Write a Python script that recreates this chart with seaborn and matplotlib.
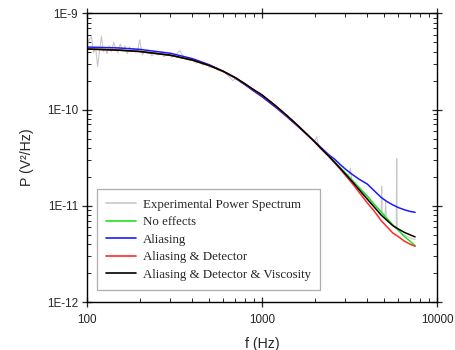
import numpy as np
import pandas as pd
import matplotlib
matplotlib.use("Agg")
import matplotlib.pyplot as plt
import seaborn as sns

# ---- data (P in units of 1e-10 V^2/Hz) ----
f_exp = [100, 103, 106, 109, 112, 115, 118, 121, 124, 127, 130, 134, 138, 142, 146,
         150, 155, 160, 165, 170, 175, 180, 185, 190, 195, 200, 207, 214, 221, 228,
         235, 245, 255, 265, 275, 290, 305, 320, 340, 360, 380, 400, 420, 440, 460,
         480, 500, 530, 560, 600, 640, 680, 720, 760, 800, 850, 900, 950, 1000, 1060,
         1120, 1180, 1250, 1330, 1410, 1500, 1600, 1700, 1800, 1900, 2000, 2050, 2100,
         2200, 2350, 2500, 2650, 2800, 3000, 3150, 3200, 3250, 3400, 3600, 3800, 4000,
         4200, 4400, 4600, 4800, 4830, 4860, 4950, 5050, 5090, 5130, 5250, 5400, 5550,
         5700, 5850, 5888, 5920, 6000, 6150, 6300, 6500, 6700, 6900, 7100, 7300, 7500]
p_exp = [4.6, 5.3, 5.7, 3.9, 4.4, 2.8, 4.1, 5.8, 4.0, 4.4, 3.8, 4.6, 4.0, 5.0, 4.3,
         3.9, 4.8, 4.1, 4.6, 3.8, 4.5, 4.0, 4.3, 3.9, 4.2, 5.3, 3.7, 4.0, 3.8, 4.1,
         3.6, 3.95, 3.7, 3.9, 3.55, 3.75, 3.5, 3.65, 4.1, 3.4, 3.25, 3.35, 3.05, 3.1, 2.9,
         3.0, 2.75, 2.8, 2.55, 2.5, 2.25, 2.0, 2.15, 1.9, 1.86, 1.68, 1.62, 1.47, 1.42, 1.28,
         1.22, 1.09, 1.02, 0.91, 0.83, 0.77, 0.68, 0.62, 0.55, 0.51, 0.47, 0.52, 0.43,
         0.39, 0.355, 0.31, 0.27, 0.245, 0.215, 0.21, 0.245, 0.19, 0.17, 0.148, 0.135, 0.124,
         0.11, 0.10, 0.093, 0.087, 0.16, 0.086, 0.083, 0.079, 0.11, 0.077, 0.072, 0.068, 0.064,
         0.061, 0.058, 0.31, 0.057, 0.056, 0.054, 0.051, 0.050, 0.048, 0.047, 0.046, 0.045, 0.045]

f_model = [100, 150, 200, 300, 400, 500, 600, 700, 800, 900, 1000, 1200, 1400, 1600,
           1800, 2000, 2200, 2400, 2600, 2800, 3000, 3300, 3600, 4000, 4400, 4800,
           5200, 5600, 6000, 6500, 7000, 7500]
p_no_effects = [4.28, 4.16, 4.02, 3.66, 3.26, 2.85, 2.48, 2.14, 1.83, 1.58, 1.40, 1.08,
                0.85, 0.682, 0.557, 0.463, 0.389, 0.332, 0.286, 0.249, 0.219, 0.182,
                0.154, 0.126, 0.103, 0.086, 0.073, 0.063, 0.056, 0.048, 0.043, 0.0385]
p_aliasing = [4.46, 4.37, 4.22, 3.84, 3.38, 2.92, 2.50, 2.13, 1.81, 1.55, 1.36, 1.05,
              0.83, 0.67, 0.553, 0.465, 0.395, 0.340, 0.305, 0.268, 0.240, 0.210,
              0.188, 0.168, 0.142, 0.122, 0.110, 0.102, 0.096, 0.091, 0.0875, 0.0855]
p_alias_det = [4.27, 4.15, 4.01, 3.66, 3.26, 2.86, 2.49, 2.15, 1.84, 1.59, 1.41, 1.08,
               0.85, 0.680, 0.554, 0.459, 0.383, 0.328, 0.279, 0.240, 0.207, 0.168,
               0.137, 0.107, 0.087, 0.070, 0.060, 0.052, 0.048, 0.043, 0.040, 0.038]
p_alias_det_visc = [4.25, 4.14, 4.01, 3.67, 3.27, 2.87, 2.50, 2.16, 1.85, 1.60, 1.42, 1.09,
                    0.855, 0.684, 0.557, 0.462, 0.386, 0.330, 0.283, 0.245, 0.213, 0.176,
                    0.146, 0.117, 0.096, 0.080, 0.070, 0.062, 0.0575, 0.053, 0.050, 0.0475]

labels = ["Experimental Power Spectrum", "No effects", "Aliasing",
          "Aliasing & Detector", "Aliasing & Detector & Viscosity"]
colors = ["#c8c8c8", "#22e022", "#1a1aff", "#ff2a2a", "#000000"]
y_ticks = [1e-12, 1e-11, 1e-10, 1e-9]
y_tick_labels = ["1E-12", "1E-11", "1E-10", "1E-9"]
x_ticks = [100, 1000, 10000]
x_tick_labels = ["100", "1000", "10000"]

scale = 1e-10

sns.set_style("ticks")
plt.rcParams["font.family"] = ["Liberation Sans", "DejaVu Sans"]

fig = plt.figure(figsize=(4.56, 3.5), dpi=100)
ax = fig.add_axes([0.1908, 0.1371, 0.7675, 0.8249])

series = [(f_exp, p_exp), (f_model, p_no_effects), (f_model, p_aliasing),
          (f_model, p_alias_det), (f_model, p_alias_det_visc)]
widths = [0.8, 1.1, 1.1, 1.1, 1.1]
for (fx, py), lab, col, lw in zip(series, labels, colors, widths):
    df = pd.DataFrame({"f": fx, "P": np.array(py) * scale})
    sns.lineplot(data=df, x="f", y="P", ax=ax, color=col, lw=lw, label=lab,
                 estimator=None, sort=False)

ax.set_xscale("log")
ax.set_yscale("log")
ax.set_xlim(100, 10000)
ax.set_ylim(1e-12, 1e-9)
ax.set_xticks(x_ticks)
ax.set_xticklabels(x_tick_labels)
ax.set_yticks(y_ticks)
ax.set_yticklabels(y_tick_labels)

for s in ax.spines.values():
    s.set_visible(True)
    s.set_linewidth(1.0)
    s.set_color("black")
ax.tick_params(which="major", direction="inout", length=7, width=0.9,
               top=True, right=True, labelsize=8.4)
ax.tick_params(axis="x", which="major", pad=5)
ax.tick_params(axis="y", which="major", pad=3)
ax.tick_params(which="minor", direction="in", length=3, width=0.7,
               top=True, right=True)

ax.set_xlabel("f (Hz)", fontsize=10.2, labelpad=8)
ax.set_ylabel("P (V²/Hz)", fontsize=10.2, labelpad=9)

leg = ax.legend(loc="lower left", bbox_to_anchor=(0.028, 0.04), borderaxespad=0,
                prop={"family": "Liberation Serif", "size": 9.3},
                frameon=True, fancybox=False, handlelength=2.3, labelspacing=0.42,
                handletextpad=0.5, borderpad=0.75)
leg.get_frame().set_edgecolor("#999999")
leg.get_frame().set_linewidth(0.9)
for h in leg.get_lines():
    h.set_linewidth(1.2)

fig.savefig("out.png", dpi=100)
